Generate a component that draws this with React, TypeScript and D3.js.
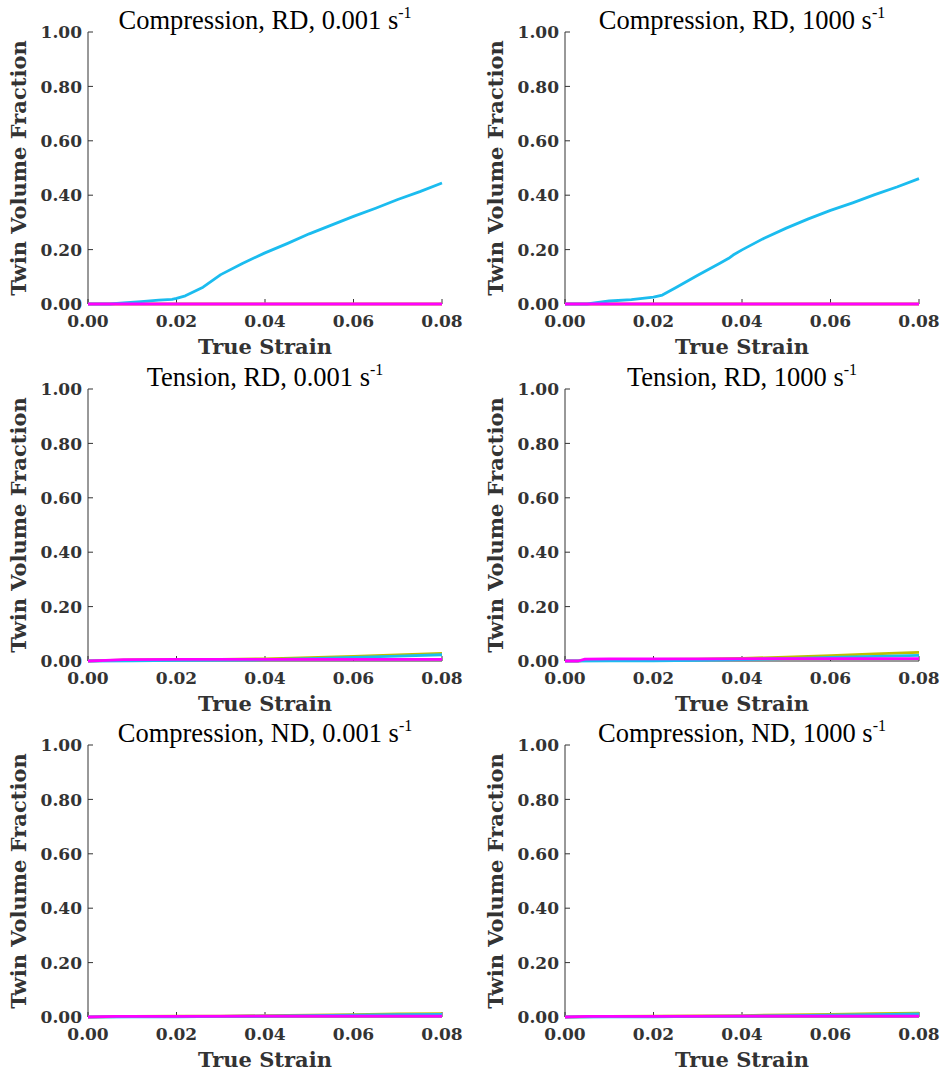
import React from "react";
import * as d3 from "d3";

// ---------- data ----------
const xTicks = [0, 0.02, 0.04, 0.06, 0.08];
const yTicks = [0, 0.2, 0.4, 0.6, 0.8, 1.0];

const seriesNames = ["yellow", "cyan", "magenta"];
const seriesColors = ["#bfbf00", "#1bbcef", "#ff00ff"];

// Compression, RD, 0.001 s-1
const compRD1_cyan: [number, number][] = [
  [0, 0], [0.005, 0], [0.008, 0.004], [0.012, 0.009], [0.016, 0.014], [0.019, 0.017],
  [0.02, 0.021], [0.022, 0.03], [0.026, 0.062], [0.03, 0.108], [0.035, 0.15],
  [0.04, 0.188], [0.045, 0.222], [0.05, 0.258], [0.055, 0.29], [0.06, 0.322],
  [0.065, 0.352], [0.07, 0.384], [0.075, 0.413], [0.08, 0.445],
];
const compRD1_yellow: [number, number][] = [[0, 0], [0.08, 0]];
const compRD1_magenta: [number, number][] = [[0, 0], [0.08, 0]];

// Compression, RD, 1000 s-1
const compRD2_cyan: [number, number][] = [
  [0, 0], [0.005, 0], [0.01, 0.011], [0.015, 0.016], [0.02, 0.025], [0.022, 0.033],
  [0.025, 0.06], [0.03, 0.106], [0.035, 0.15], [0.037, 0.168], [0.038, 0.18],
  [0.04, 0.199], [0.045, 0.242], [0.05, 0.279], [0.055, 0.313], [0.06, 0.344],
  [0.065, 0.372], [0.07, 0.402], [0.075, 0.43], [0.08, 0.461],
];
const compRD2_yellow: [number, number][] = [[0, 0], [0.08, 0]];
const compRD2_magenta: [number, number][] = [[0, 0], [0.08, 0]];

// Tension, RD, 0.001 s-1
const tenRD1_yellow: [number, number][] = [
  [0, 0], [0.005, 0.002], [0.01, 0.004], [0.02, 0.005], [0.03, 0.006], [0.04, 0.008],
  [0.05, 0.012], [0.06, 0.017], [0.07, 0.022], [0.08, 0.028],
];
const tenRD1_cyan: [number, number][] = [
  [0, 0], [0.01, 0.001], [0.02, 0.002], [0.03, 0.003], [0.04, 0.005],
  [0.05, 0.009], [0.06, 0.013], [0.07, 0.018], [0.08, 0.023],
];
const tenRD1_magenta: [number, number][] = [
  [0, 0], [0.004, 0.002], [0.008, 0.005], [0.02, 0.006], [0.04, 0.006],
  [0.06, 0.006], [0.08, 0.006],
];

// Tension, RD, 1000 s-1
const tenRD2_yellow: [number, number][] = [
  [0, 0], [0.003, 0], [0.005, 0.004], [0.01, 0.005], [0.02, 0.006], [0.03, 0.007],
  [0.04, 0.01], [0.05, 0.014], [0.06, 0.02], [0.07, 0.026], [0.08, 0.032],
];
const tenRD2_cyan: [number, number][] = [
  [0, 0], [0.01, 0.001], [0.02, 0.001], [0.03, 0.002], [0.04, 0.005],
  [0.05, 0.009], [0.06, 0.013], [0.07, 0.017], [0.08, 0.021],
];
const tenRD2_magenta: [number, number][] = [
  [0, 0], [0.003, 0], [0.0045, 0.007], [0.01, 0.008], [0.03, 0.008],
  [0.05, 0.009], [0.08, 0.009],
];

// Compression, ND, 0.001 s-1
const compND1_yellow: [number, number][] = [
  [0, 0], [0.01, 0.002], [0.02, 0.003], [0.03, 0.003], [0.04, 0.005],
  [0.05, 0.007], [0.06, 0.009], [0.07, 0.011], [0.08, 0.012],
];
const compND1_cyan: [number, number][] = [
  [0, 0], [0.01, 0.001], [0.02, 0.001], [0.03, 0.002], [0.04, 0.003],
  [0.05, 0.005], [0.06, 0.007], [0.07, 0.009], [0.08, 0.01],
];
const compND1_magenta: [number, number][] = [
  [0, 0], [0.006, 0.002], [0.02, 0.002], [0.04, 0.003], [0.06, 0.003], [0.08, 0.003],
];

// Compression, ND, 1000 s-1
const compND2_yellow: [number, number][] = [
  [0, 0], [0.01, 0.002], [0.02, 0.003], [0.03, 0.004], [0.04, 0.005],
  [0.05, 0.008], [0.06, 0.01], [0.07, 0.012], [0.08, 0.014],
];
const compND2_cyan: [number, number][] = [
  [0, 0], [0.01, 0.001], [0.02, 0.001], [0.03, 0.002], [0.04, 0.003],
  [0.05, 0.005], [0.06, 0.007], [0.07, 0.009], [0.08, 0.011],
];
const compND2_magenta: [number, number][] = [
  [0, 0], [0.005, 0.002], [0.02, 0.002], [0.04, 0.003], [0.06, 0.003], [0.08, 0.003],
];

const titles = [
  "Compression, RD, 0.001 s",
  "Compression, RD, 1000 s",
  "Tension, RD, 0.001 s",
  "Tension, RD, 1000 s",
  "Compression, ND, 0.001 s",
  "Compression, ND, 1000 s",
];

const panelSeries = [
  [compRD1_yellow, compRD1_cyan, compRD1_magenta],
  [compRD2_yellow, compRD2_cyan, compRD2_magenta],
  [tenRD1_yellow, tenRD1_cyan, tenRD1_magenta],
  [tenRD2_yellow, tenRD2_cyan, tenRD2_magenta],
  [compND1_yellow, compND1_cyan, compND1_magenta],
  [compND2_yellow, compND2_cyan, compND2_magenta],
];

// ---------- layout ----------
const W = 946;
const H = 1076;
const colX = [[88, 442], [565, 919]];
const rowY = [[32, 304], [389, 661], [745, 1017]];

const TICK_FONT = "'DejaVu Serif', serif";
const TITLE_FONT = "'Liberation Serif', 'Times New Roman', serif";
const AXIS_COLOR = "#333";

function Panel({ idx }: { idx: number }) {
  const col = idx % 2;
  const row = Math.floor(idx / 2);
  const [x0, x1] = colX[col];
  const [yTop, yBot] = rowY[row];
  const x = d3.scaleLinear().domain([0, 0.08]).range([x0, x1]);
  const y = d3.scaleLinear().domain([0, 1]).range([yBot, yTop]);
  const line = d3
    .line<[number, number]>()
    .x((d) => x(d[0]))
    .y((d) => y(d[1]));
  const cx = (x0 + x1) / 2;
  const cy = (yTop + yBot) / 2;
  return (
    <g>
      {/* title */}
      <text
        x={cx}
        y={yTop - 3}
        textAnchor="middle"
        fontFamily={TITLE_FONT}
        fontSize={26.5}
        fill="#000"
      >
        {titles[idx]}
        <tspan fontSize={16} dy={-11}>-1</tspan>
      </text>
      {/* axes */}
      <line x1={x0} x2={x0} y1={yTop} y2={yBot} stroke={AXIS_COLOR} strokeWidth={1} />
      <line x1={x0} x2={x1} y1={yBot} y2={yBot} stroke={AXIS_COLOR} strokeWidth={1} />
      {yTicks.map((t) => (
        <g key={"y" + t}>
          <line x1={x0} x2={x0 + 5} y1={y(t)} y2={y(t)} stroke={AXIS_COLOR} strokeWidth={1} />
          <text
            x={x0 - 6}
            y={y(t)}
            dy="0.36em"
            textAnchor="end"
            fontFamily={TICK_FONT}
            fontWeight="bold"
            fontSize={17}
            fill="#333"
          >
            {d3.format(".2f")(t)}
          </text>
        </g>
      ))}
      {xTicks.map((t) => (
        <g key={"x" + t}>
          <line x1={x(t)} x2={x(t)} y1={yBot} y2={yBot - 5} stroke={AXIS_COLOR} strokeWidth={1} />
          <text
            x={x(t)}
            y={yBot + 23}
            textAnchor="middle"
            fontFamily={TICK_FONT}
            fontWeight="bold"
            fontSize={17}
            fill="#333"
          >
            {d3.format(".2f")(t)}
          </text>
        </g>
      ))}
      <text
        x={cx}
        y={yBot + 50}
        textAnchor="middle"
        fontFamily={TICK_FONT}
        fontWeight="bold"
        fontSize={21}
        fill="#333"
      >
        True Strain
      </text>
      <text
        transform={`translate(${x0 - 62},${cy}) rotate(-90)`}
        textAnchor="middle"
        fontFamily={TICK_FONT}
        fontWeight="bold"
        fontSize={21}
        fill="#333"
      >
        Twin Volume Fraction
      </text>
      {/* series */}
      {panelSeries[idx].map((s, i) => (
        <path
          key={seriesNames[i]}
          d={line(s) || ""}
          fill="none"
          stroke={seriesColors[i]}
          strokeWidth={2.8}
          strokeLinejoin="round"
        />
      ))}
    </g>
  );
}

export default function App() {
  return (
    <svg
      width={W}
      height={H}
      viewBox={`0 0 ${W} ${H}`}
      style={{ position: "absolute", left: 0, top: 0, background: "#fff" }}
    >
      <rect width={W} height={H} fill="#fff" />
      {[0, 1, 2, 3, 4, 5].map((i) => (
        <Panel key={i} idx={i} />
      ))}
    </svg>
  );
}
